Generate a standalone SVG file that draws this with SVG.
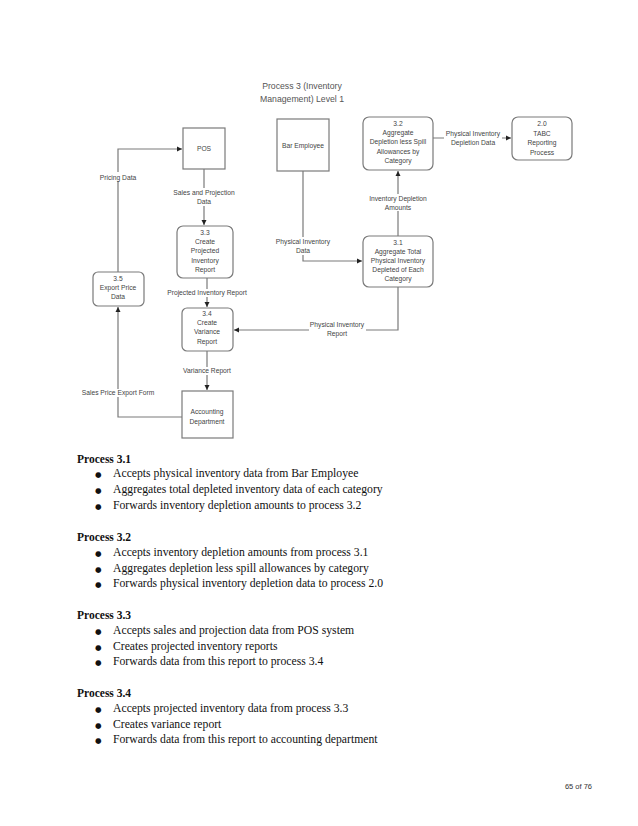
<svg xmlns="http://www.w3.org/2000/svg" width="638" height="826" viewBox="0 0 638 826">
<style>
.bg{fill:#ffffff}
.box{fill:#ffffff;stroke:#7a7a7a;stroke-width:1.2}
.ln{fill:none;stroke:#7a7a7a;stroke-width:1.2}
.t{font-family:"Liberation Sans",Arial,sans-serif;font-size:6.7px;fill:#444;text-anchor:middle}
.lb{font-family:"Liberation Sans",Arial,sans-serif;font-size:6.7px;fill:#444;text-anchor:middle}
.ti{font-family:"Liberation Sans",Arial,sans-serif;font-size:8.7px;fill:#555;text-anchor:middle}
.h{font-family:"Liberation Serif","Times New Roman",serif;font-size:11.5px;font-weight:bold;fill:#111}
.b{font-family:"Liberation Serif","Times New Roman",serif;font-size:11.7px;fill:#111}
.d{font-family:"DejaVu Sans",sans-serif;font-size:7.5px;fill:#111}
.pg{font-family:"Liberation Sans",Arial,sans-serif;font-size:7.5px;fill:#333;text-anchor:end}
.lbg{fill:#ffffff}
</style>
<defs>
<marker id="ah" markerWidth="6" markerHeight="6" refX="5" refY="3" orient="auto" markerUnits="userSpaceOnUse">
<path d="M0,0.5 L5,3 L0,5.5 Z" fill="#222"/>
</marker>
</defs>
<rect class="bg" x="0" y="0" width="638" height="826"/>

<g id="title">
<text class="ti" x="302" y="89">Process 3 (Inventory</text>
<text class="ti" x="302" y="102">Management) Level 1</text>
</g>

<g id="connectors">
<path class="ln" d="M118,272 L118,149 L182,149" marker-end="url(#ah)"/>
<path class="ln" d="M204,169 L204,225" marker-end="url(#ah)"/>
<path class="ln" d="M207,278 L207,307" marker-end="url(#ah)"/>
<path class="ln" d="M207,351 L207,390" marker-end="url(#ah)"/>
<path class="ln" d="M182,417 L118,417 L118,307" marker-end="url(#ah)"/>
<path class="ln" d="M303,171 L303,261 L362,261" marker-end="url(#ah)"/>
<path class="ln" d="M398,236 L398,171" marker-end="url(#ah)"/>
<path class="ln" d="M433,138 L511,138" marker-end="url(#ah)"/>
<path class="ln" d="M398,287 L398,330 L234,330" marker-end="url(#ah)"/>

<rect class="lbg" x="94" y="172" width="48" height="9"/>
<text class="lb" x="118" y="180">Pricing Data</text>

<rect class="lbg" x="170" y="188" width="68" height="18"/>
<text class="lb" x="204" y="195">Sales and Projection</text>
<text class="lb" x="204" y="204">Data</text>

<rect class="lbg" x="163" y="289" width="90" height="8"/>
<text class="lb" x="207" y="295">Projected Inventory Report</text>

<rect class="lbg" x="182" y="367" width="50" height="8"/>
<text class="lb" x="207" y="373">Variance Report</text>

<rect class="lbg" x="78" y="389" width="80" height="8"/>
<text class="lb" x="118" y="395">Sales Price Export Form</text>

<rect class="lbg" x="277" y="237" width="52" height="18"/>
<text class="lb" x="303" y="244">Physical Inventory</text>
<text class="lb" x="303" y="253">Data</text>

<rect class="lbg" x="364" y="194" width="68" height="17"/>
<text class="lb" x="398" y="201">Inventory Depletion</text>
<text class="lb" x="398" y="210">Amounts</text>

<rect class="lbg" x="444" y="129" width="58" height="17"/>
<text class="lb" x="473" y="136">Physical Inventory</text>
<text class="lb" x="473" y="145">Depletion Data</text>

<rect class="lbg" x="309" y="320" width="57" height="17"/>
<text class="lb" x="337" y="327">Physical Inventory</text>
<text class="lb" x="337" y="336">Report</text>
</g>

<g id="pos">
<rect class="box" x="183" y="128" width="42" height="41"/>
<text class="t" x="204" y="151">POS</text>
</g>

<g id="bar-employee">
<rect class="box" x="277" y="119" width="52" height="52"/>
<text class="t" x="303" y="148">Bar Employee</text>
</g>

<g id="p32">
<rect class="box" x="363" y="117" width="70" height="53" rx="6"/>
<text class="t" x="398" y="126">3.2</text>
<text class="t" x="398" y="135">Aggregate</text>
<text class="t" x="398" y="144">Depletion less Spill</text>
<text class="t" x="398" y="154">Allowances by</text>
<text class="t" x="398" y="163">Category</text>
</g>

<g id="p20">
<rect class="box" x="512" y="117" width="60" height="43" rx="6"/>
<text class="t" x="542" y="126">2.0</text>
<text class="t" x="542" y="136">TABC</text>
<text class="t" x="542" y="145">Reporting</text>
<text class="t" x="542" y="155">Process</text>
</g>

<g id="p31">
<rect class="box" x="363" y="236" width="70" height="51" rx="6"/>
<text class="t" x="398" y="245">3.1</text>
<text class="t" x="398" y="254">Aggregate Total</text>
<text class="t" x="398" y="263">Physical Inventory</text>
<text class="t" x="398" y="272">Depleted of Each</text>
<text class="t" x="398" y="281">Category</text>
</g>

<g id="p33">
<rect class="box" x="177" y="226" width="56" height="52" rx="6"/>
<text class="t" x="205" y="235">3.3</text>
<text class="t" x="205" y="244">Create</text>
<text class="t" x="205" y="253">Projected</text>
<text class="t" x="205" y="263">Inventory</text>
<text class="t" x="205" y="272">Report</text>
</g>

<g id="p35">
<rect class="box" x="93" y="272" width="51" height="34" rx="5"/>
<text class="t" x="118" y="281">3.5</text>
<text class="t" x="118" y="290">Export Price</text>
<text class="t" x="118" y="299">Data</text>
</g>

<g id="p34">
<rect class="box" x="182" y="308" width="51" height="43" rx="5"/>
<text class="t" x="207" y="316">3.4</text>
<text class="t" x="207" y="325">Create</text>
<text class="t" x="207" y="334">Variance</text>
<text class="t" x="207" y="344">Report</text>
</g>

<g id="accounting">
<rect class="box" x="182" y="391" width="51" height="47"/>
<text class="t" x="207" y="414">Accounting</text>
<text class="t" x="207" y="424">Department</text>
</g>

<g id="text-body">
<text class="h" x="77" y="463">Process 3.1</text>
<text class="d" x="95" y="477">●</text><text class="b" x="113" y="477">Accepts physical inventory data from Bar Employee</text>
<text class="d" x="95" y="493">●</text><text class="b" x="113" y="493">Aggregates total depleted inventory data of each category</text>
<text class="d" x="95" y="509">●</text><text class="b" x="113" y="509">Forwards inventory depletion amounts to process 3.2</text>

<text class="h" x="77" y="541">Process 3.2</text>
<text class="d" x="95" y="556">●</text><text class="b" x="113" y="556">Accepts inventory depletion amounts from process 3.1</text>
<text class="d" x="95" y="572">●</text><text class="b" x="113" y="572">Aggregates depletion less spill allowances by category</text>
<text class="d" x="95" y="587">●</text><text class="b" x="113" y="587">Forwards physical inventory depletion data to process 2.0</text>

<text class="h" x="77" y="619">Process 3.3</text>
<text class="d" x="95" y="634">●</text><text class="b" x="113" y="634">Accepts sales and projection data from POS system</text>
<text class="d" x="95" y="650">●</text><text class="b" x="113" y="650">Creates projected inventory reports</text>
<text class="d" x="95" y="665">●</text><text class="b" x="113" y="665">Forwards data from this report to process 3.4</text>

<text class="h" x="77" y="697">Process 3.4</text>
<text class="d" x="95" y="712">●</text><text class="b" x="113" y="712">Accepts projected inventory data from process 3.3</text>
<text class="d" x="95" y="728">●</text><text class="b" x="113" y="728">Creates variance report</text>
<text class="d" x="95" y="743">●</text><text class="b" x="113" y="743">Forwards data from this report to accounting department</text>

<text class="pg" x="592" y="789">65 of 76</text>
</g>
</svg>
